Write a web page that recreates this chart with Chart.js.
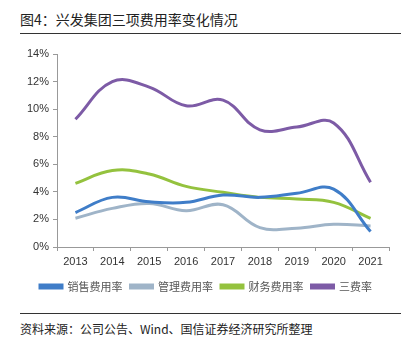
<!DOCTYPE html>
<html>
<head>
<meta charset="utf-8">
<script src="https://cdn.jsdelivr.net/npm/chart.js@4"></script>
<style>
    body { margin: 0; width: 412px; height: 347px; background: #fff; position: relative; overflow: hidden; font-family: "Noto Sans CJK SC", "Noto Sans", sans-serif; }
    .title { position: absolute; left: 20px; top: 9px; font-size: 14px; color: #222; }
    .rule { position: absolute; left: 20px; width: 381px; height: 1px; background: #333; }
    .source { position: absolute; left: 20px; top: 320px; font-size: 12px; color: #222; }
    #wrap { position: absolute; left: 0; top: 38px; width: 412px; height: 264px; }
</style>
</head>
<body>
<div class="title">图4：兴发集团三项费用率变化情况</div>
<div class="rule" style="top:33px"></div>
<div id="wrap"><canvas id="chart"></canvas></div>
<div class="rule" style="top:313px"></div>
<div class="source">资料来源：公司公告、Wind、国信证券经济研究所整理</div>
<script>
// 年份与各项费用率（%）
const years = ['2013', '2014', '2015', '2016', '2017', '2018', '2019', '2020', '2021'];
const salesRate = [2.5, 3.6, 3.28, 3.24, 3.77, 3.6, 3.9, 4.2, 1.12];
const adminRate = [2.09, 2.8, 3.16, 2.63, 3.07, 1.41, 1.36, 1.65, 1.53];
const financeRate = [4.62, 5.55, 5.3, 4.4, 3.97, 3.6, 3.48, 3.24, 2.07];
const totalRate = [9.27, 12.0, 11.6, 10.24, 10.65, 8.5, 8.7, 9.0, 4.7];
const yTicks = [0, 2, 4, 6, 8, 10, 12, 14];

const colors = {
    sales: '#3f7dc8',
    admin: '#9fb4c8',
    finance: '#94c23e',
    total: '#7d5ba6'
};

function line(label, data, color) {
    return {
        label: label,
        data: data,
        borderColor: color,
        backgroundColor: color,
        borderWidth: 3,
        pointRadius: 0,
        tension: 0.4,
        fill: false
    };
}

new Chart(document.getElementById('chart'), {
    type: 'line',
    data: {
        labels: years,
        datasets: [
            line('销售费用率', salesRate, colors.sales),
            line('管理费用率', adminRate, colors.admin),
            line('财务费用率', financeRate, colors.finance),
            line('三费率', totalRate, colors.total)
        ]
    },
    options: {
        responsive: true,
        maintainAspectRatio: false,
        animation: false,
        layout: {
            padding: { top: 16, right: 23, left: 23, bottom: 0 }
        },
        plugins: {
            legend: {
                position: 'bottom',
                labels: {
                    boxWidth: 22,
                    boxHeight: 3,
                    padding: 8,
                    color: '#555',
                    font: { family: '"Noto Sans CJK SC"', size: 11 }
                }
            },
            tooltip: { enabled: false }
        },
        scales: {
            x: {
                offset: true,
                grid: {
                    display: true,
                    drawOnChartArea: false,
                    offset: true,
                    tickLength: 4,
                    color: '#999'
                },
                border: { color: '#999' },
                ticks: {
                    color: '#333',
                    padding: 4,
                    maxRotation: 0,
                    font: { family: 'Liberation Sans', size: 11 }
                },
                afterFit: function (scale) { scale.height = 26; }
            },
            y: {
                min: 0,
                max: 14,
                afterBuildTicks: function (scale) {
                    scale.ticks = yTicks.map(v => ({ value: v }));
                },
                grid: {
                    display: true,
                    drawOnChartArea: false,
                    tickLength: 4,
                    color: '#999'
                },
                border: { color: '#999' },
                ticks: {
                    color: '#333',
                    padding: 4,
                    font: { family: 'Liberation Sans', size: 11 },
                    callback: function (v) { return v + '%'; }
                },
                afterFit: function (scale) { scale.width = 34; }
            }
        }
    }
});
</script>
</body>
</html>
